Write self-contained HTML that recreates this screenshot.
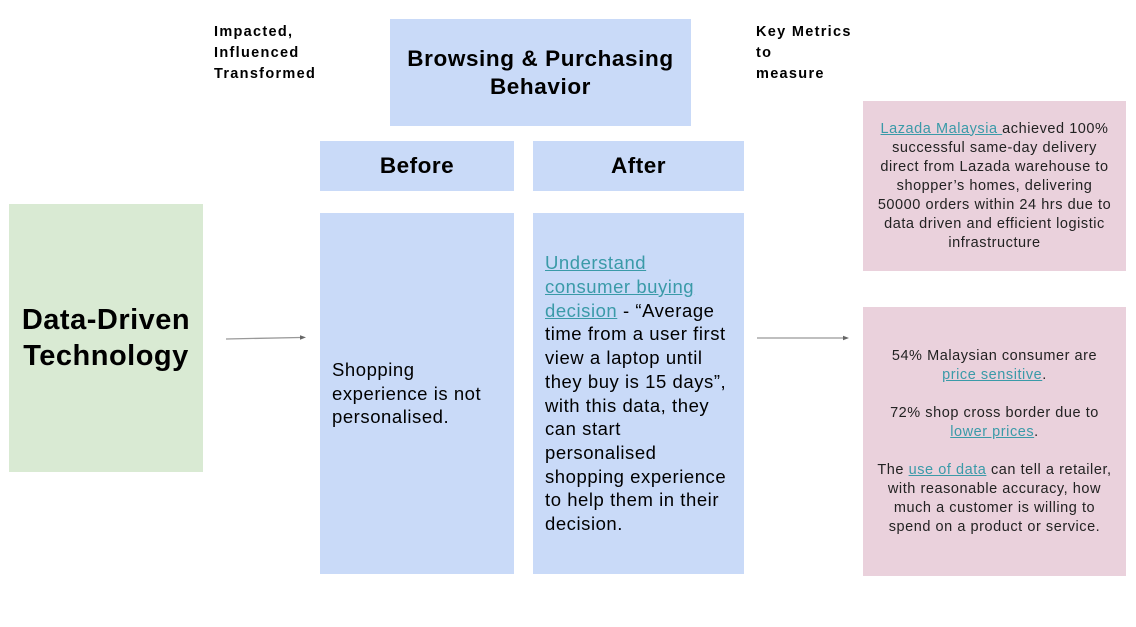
<!DOCTYPE html>
<html><head><meta charset="utf-8"><style>
body{margin:0;width:1136px;height:627px;background:#fff;position:relative;overflow:hidden;font-family:"Liberation Sans",Arial,sans-serif;color:#000}
.b{position:absolute;display:flex;align-items:center;box-sizing:border-box}
.c{justify-content:center;text-align:center}
.blue{background:#c9daf8}
.pink{background:#ead1dc;color:#222;font-size:14.5px;line-height:19px;letter-spacing:0.55px}
a{color:#3a9aa8;text-decoration:underline}
.lbl{position:absolute;font-weight:bold;font-size:14.5px;line-height:21px;letter-spacing:1.3px}
.body{font-size:18.5px;line-height:23.7px;padding-left:12px;letter-spacing:0.55px}
</style></head><body>
<div class="lbl" style="left:214px;top:22px">Impacted,<br>Influenced<br>Transformed</div>
<div class="lbl" style="left:756px;top:22px">Key Metrics<br>to<br>measure</div>
<div class="b c blue" style="left:390px;top:19px;width:301px;height:107px;font-weight:bold;font-size:22.5px;line-height:28px;letter-spacing:0.6px">Browsing &amp; Purchasing<br>Behavior</div>
<div class="b c blue" style="left:320px;top:141px;width:194px;height:50px;font-weight:bold;font-size:22.5px;letter-spacing:0.5px">Before</div>
<div class="b c blue" style="left:533px;top:141px;width:211px;height:50px;font-weight:bold;font-size:22.5px;letter-spacing:0.5px">After</div>
<div class="b c" style="left:9px;top:204px;width:194px;height:268px;background:#d9ead3;font-weight:bold;font-size:29px;line-height:36px;letter-spacing:0.5px">Data-Driven<br>Technology</div>
<div class="b blue body" style="left:320px;top:213px;width:194px;height:361px">Shopping<br>experience is not<br>personalised.</div>
<div class="b blue body" style="left:533px;top:213px;width:211px;height:361px"><div><a>Understand<br>consumer buying<br>decision</a> - “Average<br>time from a user first<br>view a laptop until<br>they buy is 15 days”,<br>with this data, they<br>can start<br>personalised<br>shopping experience<br>to help them in their<br>decision.</div></div>
<div class="b c pink" style="left:863px;top:101px;width:263px;height:170px"><div><a>Lazada Malaysia </a>achieved 100%<br>successful same-day delivery<br>direct from Lazada warehouse to<br>shopper’s homes, delivering<br>50000 orders within 24 hrs due to<br>data driven and efficient logistic<br>infrastructure</div></div>
<div class="b c pink" style="left:863px;top:307px;width:263px;height:269px"><div>54% Malaysian consumer are<br><a>price sensitive</a>.<br><br>72% shop cross border due to<br><a>lower prices</a>.<br><br>The <a>use of data</a> can tell a retailer,<br>with reasonable accuracy, how<br>much a customer is willing to<br>spend on a product or service.</div></div>
<svg width="1136" height="627" style="position:absolute;left:0;top:0">
<line x1="226" y1="339" x2="300" y2="337.5" stroke="#999" stroke-width="1.3"/>
<polygon points="306,337.4 300,335.2 300,339.8" fill="#666"/>
<line x1="757" y1="338" x2="843" y2="338" stroke="#999" stroke-width="1.3"/>
<polygon points="849,338 843,335.7 843,340.3" fill="#666"/>
</svg>
</body></html>
